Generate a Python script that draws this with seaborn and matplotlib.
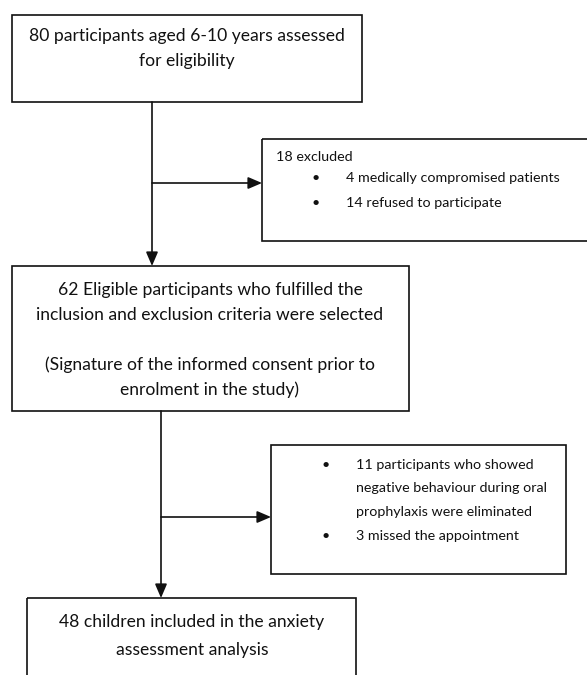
import matplotlib
matplotlib.use("Agg")
import matplotlib.pyplot as plt
import seaborn as sns
from matplotlib.patches import Rectangle

# ---- content ----
box1_lines = ["80 participants aged 6-10 years assessed", "for eligibility"]
excl1_title = "18 excluded"
excl1_items = ["4 medically compromised patients", "14 refused to participate"]
box3_lines = ["62 Eligible participants who fulfilled the",
              "inclusion and exclusion criteria were selected",
              "",
              "(Signature of the informed consent prior to",
              "enrolment in the study)"]
excl2_items = [["11 participants who showed",
                "negative behaviour during oral",
                "prophylaxis were eliminated"],
               ["3 missed the appointment"]]
box5_lines = ["48 children included in the anxiety", "assessment analysis"]

sns.set_theme(style="white")
plt.rcParams['font.family'] = ['Lato', 'DejaVu Sans']

W, H = 587, 675
fig = plt.figure(figsize=(W / 100, H / 100), dpi=100)
ax = fig.add_axes([0, 0, 1, 1])
ax.set_xlim(0, W)
ax.set_ylim(H, 0)
ax.axis("off")

lw = 1.2
col = "#111111"
fs = 12.6
fs_small = 10.3


def box(x0, y0, x1, y1):
    ax.add_patch(Rectangle((x0, y0), x1 - x0, y1 - y0, fill=False,
                           edgecolor=col, lw=lw, clip_on=False))


def arrow(x0, y0, x1, y1):
    ax.annotate("", xy=(x1, y1), xytext=(x0, y0),
                arrowprops=dict(arrowstyle="-|>,head_length=0.7,head_width=0.3",
                                color=col, lw=lw, shrinkA=0, shrinkB=0))


# Box 1
box(12, 15, 362, 102)
for i, t in enumerate(box1_lines):
    ax.text(187, 36 + i * 25, t, ha="center", va="center", fontsize=fs, color=col)

# connector 1
arrow(152, 102, 152, 266)
arrow(152, 183, 262, 183)

# Excluded box 1 (runs off right edge)
box(262, 139, 600, 241)
ax.text(276, 157, excl1_title, ha="left", va="center", fontsize=fs_small, color=col)
for i, t in enumerate(excl1_items):
    y = 178 + i * 25
    ax.text(316, y, "\u2022", ha="center", va="center", fontsize=fs_small, color=col)
    ax.text(346, y, t, ha="left", va="center", fontsize=fs_small, color=col)

# Box 3
box(12, 266, 409, 411)
for i, t in enumerate(box3_lines):
    if t:
        ax.text(210, 290 + i * 25, t, ha="center", va="center", fontsize=fs, color=col)

# connector 2
arrow(161, 411, 161, 598)
arrow(161, 517, 271, 517)

# Excluded box 2
box(271, 445, 566, 574)
y = 465
for item in excl2_items:
    ax.text(326, y, "\u2022", ha="center", va="center", fontsize=fs_small, color=col)
    for t in item:
        ax.text(356, y, t, ha="left", va="center", fontsize=fs_small, color=col)
        y += 23.5

# Box 5 (runs off bottom)
box(27, 598, 356, 690)
for i, t in enumerate(box5_lines):
    ax.text(192, 622 + i * 28, t, ha="center", va="center", fontsize=fs, color=col)

fig.savefig("out.png", dpi=100)
